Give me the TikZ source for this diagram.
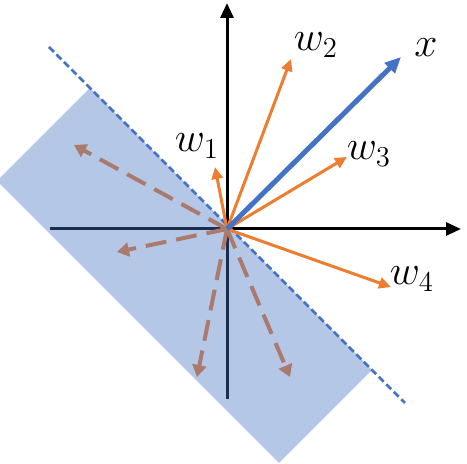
\documentclass[tikz,border=0pt]{standalone}
\usepackage{amsmath}
\usepackage{xcolor}
\usepackage{tikz}
\usetikzlibrary{arrows.meta, calc}

\definecolor{wOrange}{HTML}{ED7D31}
\definecolor{xBlue}{HTML}{4472C4}
\definecolor{negBrown}{RGB}{170,122,108}

\begin{document}
\begin{tikzpicture}[x=0.5pt,y=-0.5pt,
  axis/.style={line width=1.5pt,-{Triangle[length=7.5pt,width=6.5pt]}},
  wvec/.style={line width=1.5pt,wOrange,-{Triangle[length=6pt,width=5.5pt]}},
  negvec/.style={line width=2pt,negBrown,dash pattern=on 10.5pt off 5pt,-{Triangle[length=6pt,width=7pt]}},
  lbl/.style={inner sep=0pt,font=\fontsize{21}{25}\selectfont}]
  \useasboundingbox (0,0) rectangle (467,464);

  % Origin
  \coordinate (O) at (227,229);

  % Axes
  \coordinate (yB) at (227,399);
  \coordinate (yT) at (227,3);
  \coordinate (xL) at (50,229);
  \coordinate (xR) at (461,229);
  \draw[axis] (yB) -- (yT);
  \draw[axis] (xL) -- (xR);

  % Shaded half-plane strip
  \coordinate (H1) at (90,88);
  \coordinate (H2) at (372,370);
  \coordinate (H3) at ($(H2)+(-93,93)$);
  \coordinate (H4) at ($(H1)+(-93,93)$);
  \fill[xBlue,fill opacity=0.4] (H1) -- (H2) -- (H3) -- (H4) -- cycle;

  % Decision boundary
  \coordinate (B1) at (49,47);
  \coordinate (B2) at (405,403);
  \draw[xBlue,line width=1.3pt,dash pattern=on 3.5pt off 1.8pt] (B1) -- (B2);

  % Negative side vectors
  \coordinate (n1) at (74,145);
  \coordinate (n2) at (117,252);
  \coordinate (n3) at (197,377);
  \coordinate (n4) at (290,377);
  \foreach \n in {n1,n2,n3,n4}
    \draw[negvec] (O) -- (\n);

  % Positive side vectors
  \coordinate (w1) at (215,167);
  \coordinate (w2) at (291,59);
  \coordinate (w3) at (347,157);
  \coordinate (w4) at (391,287);
  \foreach \w in {w1,w2,w3,w4}
    \draw[wvec] (O) -- (\w);

  % Input vector
  \coordinate (x) at (401,57);
  \draw[xBlue,line width=2.5pt,-{Triangle[length=8pt,width=7pt]}] (O) -- (x);

  % Labels
  \node[lbl] (w1lbl) at (197,146) {$w_1$};
  \node[lbl] (w2lbl) at (316,45) {$w_2$};
  \node[lbl] (w3lbl) at (369,154) {$w_3$};
  \node[lbl] (w4lbl) at (412,279) {$w_4$};
  \node[lbl] (xlbl) at (426,48) {$x$};
\end{tikzpicture}
\end{document}
